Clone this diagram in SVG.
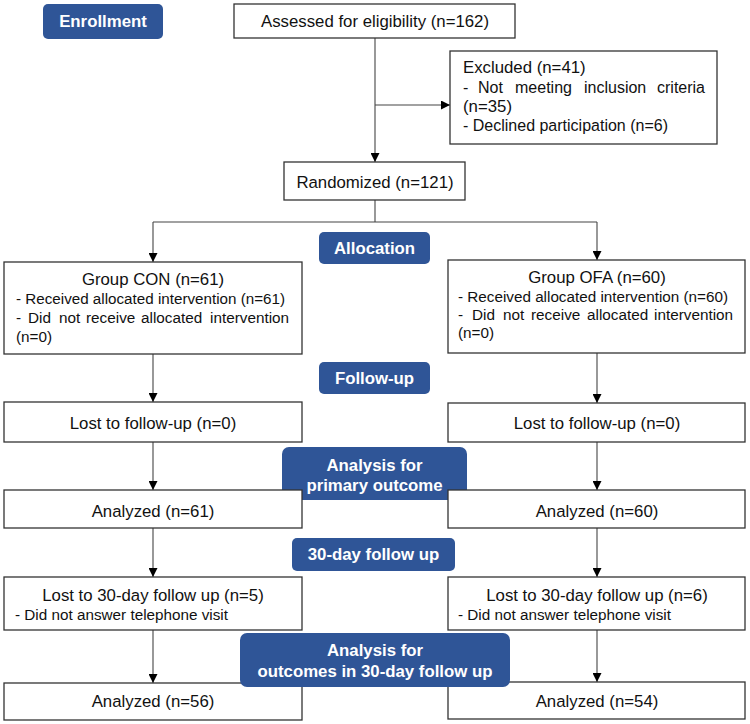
<svg xmlns="http://www.w3.org/2000/svg" width="750" height="724" viewBox="0 0 750 724">
<style>
.box{fill:#fff;stroke:#333;stroke-width:1.3}
.lab{fill:#2f5597}
.t{font-family:"Liberation Sans",Arial,sans-serif;font-size:16.8px;fill:#111}
.s{font-size:15.3px}
.e{font-size:16px}
.c{text-anchor:middle}
.w{font-family:"Liberation Sans",Arial,sans-serif;font-size:16.8px;font-weight:bold;fill:#fff;text-anchor:middle}
.ln{fill:none;stroke:#444;stroke-width:1.1}
</style>
<defs>
<marker id="ah" viewBox="0 0 10 10" refX="10" refY="5" markerWidth="9" markerHeight="9" markerUnits="userSpaceOnUse" orient="auto"><path d="M0,0 L10,5 L0,10 z" fill="#000"/></marker>
</defs>
<rect width="750" height="724" fill="#fff"/>
<g id="connectors">
<line class="ln" x1="375" y1="38" x2="375" y2="162" marker-end="url(#ah)"/>
<line class="ln" x1="375" y1="105" x2="450" y2="105" marker-end="url(#ah)"/>
<polyline class="ln" points="375,200 375,222"/>
<polyline class="ln" points="153,222 597,222"/>
<line class="ln" x1="153" y1="222" x2="153" y2="262" marker-end="url(#ah)"/>
<line class="ln" x1="597" y1="222" x2="597" y2="260" marker-end="url(#ah)"/>
<line class="ln" x1="153" y1="354" x2="153" y2="402" marker-end="url(#ah)"/>
<line class="ln" x1="597" y1="353" x2="597" y2="403" marker-end="url(#ah)"/>
<line class="ln" x1="153" y1="442" x2="153" y2="490" marker-end="url(#ah)"/>
<line class="ln" x1="597" y1="442" x2="597" y2="490" marker-end="url(#ah)"/>
<line class="ln" x1="153" y1="528" x2="153" y2="577" marker-end="url(#ah)"/>
<line class="ln" x1="597" y1="528" x2="597" y2="577" marker-end="url(#ah)"/>
<line class="ln" x1="153" y1="630" x2="153" y2="683" marker-end="url(#ah)"/>
<line class="ln" x1="597" y1="630" x2="597" y2="682" marker-end="url(#ah)"/>
</g>
<g id="enrollment"><rect class="lab" x="43" y="4" width="120" height="35" rx="5"/><text class="w" x="103" y="27">Enrollment</text></g>
<g id="assessed"><rect class="box" x="234" y="4" width="281" height="34"/><text class="t c" x="375" y="27">Assessed for eligibility (n=162)</text></g>
<g id="excluded"><rect class="box" x="450" y="51" width="267" height="93"/>
<text class="t" x="463" y="73">Excluded (n=41)</text>
<text class="t e" y="93"><tspan x="463">-</tspan><tspan x="478">Not</tspan><tspan x="515">meeting</tspan><tspan x="584">inclusion</tspan><tspan x="657">criteria</tspan></text>
<text class="t" x="463" y="112">(n=35)</text>
<text class="t" x="463" y="131" textLength="205" lengthAdjust="spacingAndGlyphs">- Declined participation (n=6)</text></g>
<g id="randomized"><rect class="box" x="284" y="162" width="181" height="38"/><text class="t c" x="375" y="188">Randomized (n=121)</text></g>
<g id="allocation"><rect class="lab" x="319" y="232" width="111" height="32" rx="5"/><text class="w" x="374.5" y="254">Allocation</text></g>
<g id="group-con"><rect class="box" x="4" y="262" width="298" height="92"/>
<text class="t c" x="153" y="285">Group CON (n=61)</text>
<text class="t s" x="16" y="304" textLength="269" lengthAdjust="spacingAndGlyphs">- Received allocated intervention (n=61)</text>
<text class="t s" y="323"><tspan x="16">-</tspan><tspan x="28">Did</tspan><tspan x="59">not</tspan><tspan x="86">receive</tspan><tspan x="141">allocated</tspan><tspan x="210">intervention</tspan></text>
<text class="t s" x="16" y="342">(n=0)</text></g>
<g id="group-ofa"><rect class="box" x="448" y="260" width="297" height="93"/>
<text class="t c" x="597" y="283">Group OFA (n=60)</text>
<text class="t s" x="458" y="302" textLength="270" lengthAdjust="spacingAndGlyphs">- Received allocated intervention (n=60)</text>
<text class="t s" y="320"><tspan x="458">-</tspan><tspan x="472">Did</tspan><tspan x="503">not</tspan><tspan x="531">receive</tspan><tspan x="587">allocated</tspan><tspan x="654">intervention</tspan></text>
<text class="t s" x="458" y="338">(n=0)</text></g>
<g id="follow-up"><rect class="lab" x="319" y="362" width="111" height="32" rx="5"/><text class="w" x="374.5" y="384">Follow-up</text></g>
<g id="lost-con"><rect class="box" x="4" y="402" width="298" height="40"/><text class="t c" x="153" y="429">Lost to follow-up (n=0)</text></g>
<g id="lost-ofa"><rect class="box" x="448" y="403" width="297" height="39"/><text class="t c" x="597" y="429">Lost to follow-up (n=0)</text></g>
<g id="analysis-primary"><rect class="lab" x="282" y="447" width="185" height="53" rx="7"/><text class="w" x="374.5" y="471">Analysis for</text><text class="w" x="374.5" y="491">primary outcome</text></g>
<g id="analyzed-con"><rect class="box" x="4" y="490" width="298" height="38"/><text class="t c" x="153" y="517">Analyzed (n=61)</text></g>
<g id="analyzed-ofa"><rect class="box" x="448" y="490" width="297" height="38"/><text class="t c" x="597" y="517">Analyzed (n=60)</text></g>
<g id="day30"><rect class="lab" x="292" y="538" width="163" height="33" rx="5"/><text class="w" x="373.5" y="560">30-day follow up</text></g>
<g id="lost30-con"><rect class="box" x="4" y="577" width="298" height="53"/><text class="t c" x="153" y="601">Lost to 30-day follow up (n=5)</text><text class="t s" x="15" y="620" textLength="213" lengthAdjust="spacingAndGlyphs">- Did not answer telephone visit</text></g>
<g id="lost30-ofa"><rect class="box" x="448" y="577" width="297" height="53"/><text class="t c" x="597" y="601">Lost to 30-day follow up (n=6)</text><text class="t s" x="458" y="620" textLength="213" lengthAdjust="spacingAndGlyphs">- Did not answer telephone visit</text></g>
<g id="analyzed56"><rect class="box" x="4" y="683" width="298" height="37"/><text class="t c" x="153" y="707">Analyzed (n=56)</text></g>
<g id="analyzed54"><rect class="box" x="448" y="682" width="297" height="37"/><text class="t c" x="597" y="707">Analyzed (n=54)</text></g>
<g id="analysis-30day"><rect class="lab" x="240" y="633" width="270" height="54" rx="7"/><text class="w" x="375" y="656">Analysis for</text><text class="w" x="375" y="677">outcomes in 30-day follow up</text></g>
</svg>
